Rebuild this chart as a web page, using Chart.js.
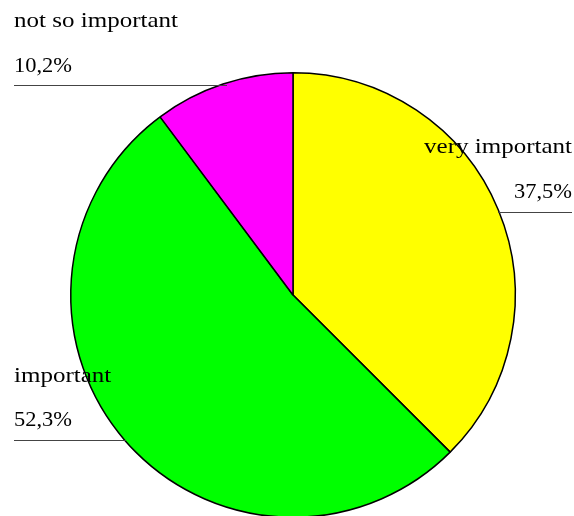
<!DOCTYPE html>
<html><head><meta charset="utf-8">
<script src="https://cdn.jsdelivr.net/npm/chart.js@4.4.0/dist/chart.umd.min.js"></script>
<style>html,body{margin:0;padding:0;background:#fff;overflow:hidden;width:574px;height:516px}
#wrap{position:absolute;left:0;top:0;width:574px;height:540px}</style>
</head><body>
<div id="wrap"><canvas id="c" width="574" height="540"></canvas></div>
<script>
const categories = ["very important", "important", "not so important"];
const values = [37.5, 52.3, 10.2];
const percentLabels = ["37,5%", "52,3%", "10,2%"];
const colors = ["#FFFF00", "#00FF00", "#FF00FF"];

const FONT = '22px "Liberation Serif", serif';
// label layout: [x, nameBaseline, pctBaseline, align, lineY, lineX1, lineX2]
const labelLayout = [
  [572, 153, 198, 'right', 212, 498, 572],
  [14, 382, 426, 'left', 440, 14, 126],
  [14, 27, 72, 'left', 85, 14, 227]
];

const labelPlugin = {
  id: 'labels',
  afterDatasetsDraw(chart) {
    const ctx = chart.ctx;
    ctx.save();
    ctx.font = FONT;
    const sx = 164 / ctx.measureText(categories[2]).width;
    const sp = 58 / ctx.measureText(percentLabels[2]).width;
    ctx.fillStyle = '#000';
    ctx.textBaseline = 'alphabetic';
    categories.forEach((name, i) => {
      const L = labelLayout[i];
      ctx.textAlign = L[3];
      ctx.save();
      ctx.translate(L[0], 0);
      ctx.scale(sx, 1);
      ctx.fillText(name, 0, L[1]);
      ctx.restore();
      ctx.save();
      ctx.translate(L[0], 0);
      ctx.scale(sp, 1);
      ctx.fillText(percentLabels[i], 0, L[2]);
      ctx.restore();
      ctx.strokeStyle = '#444';
      ctx.lineWidth = 1.2;
      ctx.beginPath();
      ctx.moveTo(L[5], L[4] + 0.5);
      ctx.lineTo(L[6], L[4] + 0.5);
      ctx.stroke();
    });
    ctx.restore();
  }
};

new Chart(document.getElementById('c'), {
  type: 'pie',
  data: {
    labels: categories,
    datasets: [{
      data: values,
      backgroundColor: colors,
      borderColor: '#000',
      borderWidth: 1.5,
      borderAlign: 'center'
    }]
  },
  options: {
    responsive: false,
    animation: false,
    layout: { padding: { left: 70, right: 58, top: 72, bottom: 22 } },
    plugins: { legend: { display: false }, tooltip: { enabled: false } }
  },
  plugins: [labelPlugin]
});
</script>
</body></html>
